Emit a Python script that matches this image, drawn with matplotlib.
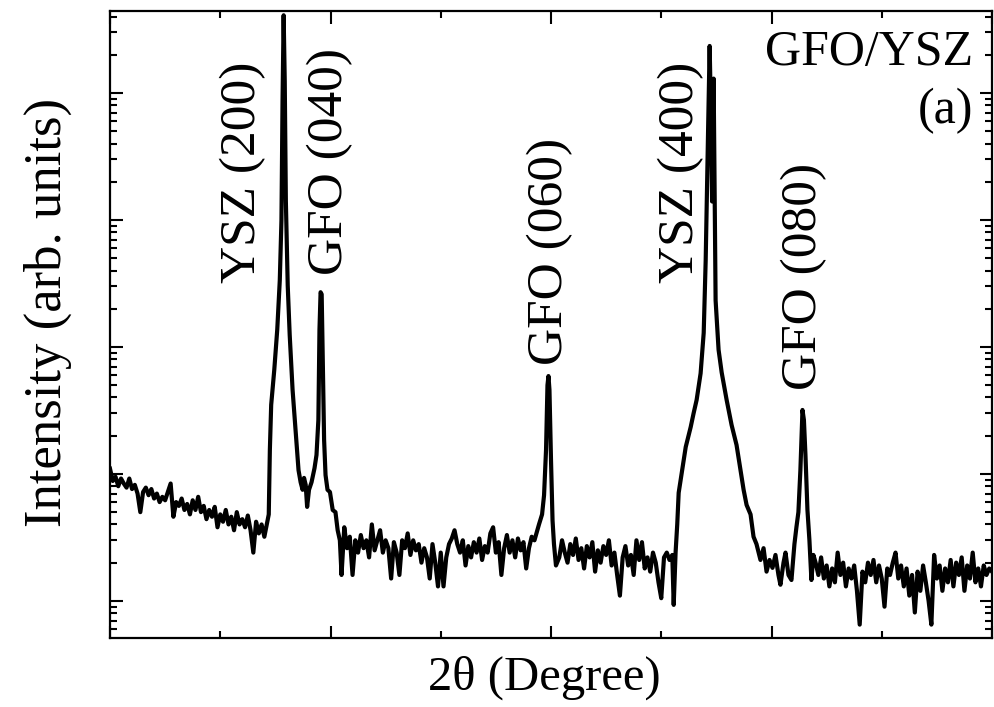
import matplotlib
matplotlib.use("Agg")
import matplotlib.pyplot as plt
from matplotlib.ticker import LogLocator, MultipleLocator, NullFormatter

# ---- data (2theta in degrees, intensity in counts) ----
two_theta_bg1 = [20.00, 20.25, 20.50, 20.75, 21.00, 21.25, 21.50, 21.75, 22.00, 22.25,
                 22.50, 22.75, 23.00, 23.25, 23.50, 23.75, 24.00, 24.25, 24.50, 24.75,
                 25.00, 25.25, 25.50, 25.75, 26.00, 26.25, 26.50, 26.75, 27.00, 27.25,
                 27.50, 27.75, 28.00, 28.25, 28.50, 28.75, 29.00, 29.25, 29.50, 29.75,
                 30.00, 30.25, 30.50, 30.75, 31.00, 31.25, 31.50, 31.75, 32.00, 32.25,
                 32.50, 32.75, 33.00, 33.25, 33.50, 33.75, 34.00, 34.25]
intensity_bg1 = [110, 88, 95, 80, 92, 84, 78, 92, 76, 82,
                 70, 50, 72, 78, 68, 76, 64, 70, 60, 66,
                 62, 72, 84, 46, 60, 56, 64, 52, 58, 48,
                 62, 52, 66, 50, 56, 44, 52, 46, 55, 38,
                 48, 42, 52, 40, 46, 36, 50, 40, 44, 38,
                 47, 36, 24, 42, 34, 40, 32, 41]

two_theta_pk1 = [34.40, 34.50, 34.62, 34.90, 35.17, 35.40, 35.55, 35.65, 35.75, 35.85,
                 35.95, 36.12, 36.30, 36.56, 36.83, 37.10, 37.29, 37.47, 37.60, 37.75,
                 37.88, 38.05, 38.28, 38.55, 38.73, 38.90, 39.00, 39.10, 39.20, 39.30,
                 39.42, 39.55, 39.73, 39.95, 40.20, 40.45, 40.65, 40.85]
intensity_pk1 = [48, 155, 350, 660, 1370, 3350, 9900, 87000, 410000, 124000,
                 14200, 3050, 1240, 460, 222, 107, 86, 75, 93, 82,
                 55, 75, 86, 111, 141, 266, 1370, 2700, 2600, 790,
                 185, 98, 75, 72, 52, 50, 36, 30]

two_theta_bg2 = [41.00, 41.25, 41.50, 41.75, 42.00, 42.25, 42.50, 42.75, 43.00, 43.25,
                 43.50, 43.75, 44.00, 44.25, 44.50, 44.75, 45.00, 45.25, 45.50, 45.75,
                 46.00, 46.25, 46.50, 46.75, 47.00, 47.25, 47.50, 47.75, 48.00, 48.25,
                 48.50, 48.75, 49.00, 49.25, 49.50, 49.75, 50.00, 50.25, 50.50, 50.75,
                 51.00, 51.25, 51.50, 51.75, 52.00, 52.25, 52.50, 52.75, 53.00, 53.25,
                 53.50, 53.75, 54.00, 54.25, 54.50, 54.75, 55.00, 55.25, 55.50, 55.75,
                 56.00, 56.25, 56.50, 56.75, 57.00, 57.25, 57.50, 57.75, 58.00, 58.25,
                 58.50]
intensity_bg2 = [16, 38, 26, 32, 16, 30, 24, 33, 26, 30,
                 22, 40, 25, 30, 36, 24, 30, 26, 15, 29,
                 24, 16, 30, 26, 34, 23, 30, 25, 28, 20,
                 26, 22, 15, 28, 20, 13, 24, 13, 22, 28,
                 31, 36, 28, 24, 30, 19, 27, 22, 29, 24,
                 31, 21, 27, 24, 34, 38, 24, 29, 16, 26,
                 33, 24, 30, 22, 31, 25, 29, 18, 26, 32,
                 30]

two_theta_pk2 = [58.91, 59.19, 59.37, 59.55, 59.68, 59.77, 59.86, 60.00, 60.14, 60.27, 60.45]
intensity_pk2 = [40, 48, 68, 155, 500, 590, 460, 129, 43, 28, 19]

two_theta_bg3 = [60.75, 61.00, 61.25, 61.50, 61.75, 62.00, 62.25, 62.50, 62.75, 63.00,
                 63.25, 63.50, 63.75, 64.00, 64.25, 64.50, 64.75, 65.00, 65.25, 65.50,
                 65.75, 66.00, 66.25, 66.50, 66.75, 67.00, 67.25, 67.50, 67.75, 68.00,
                 68.25, 68.50, 68.75, 69.00, 69.25, 69.50, 69.75, 70.00, 70.25, 70.50,
                 70.75, 71.00, 71.13, 71.30]
intensity_bg3 = [22, 30, 24, 20, 28, 23, 31, 21, 26, 18,
                 27, 22, 29, 17, 25, 20, 27, 23, 30, 19,
                 24, 16, 11, 22, 27, 19, 23, 16, 30, 21,
                 29, 18, 22, 17, 24, 20, 14, 10.5, 22, 24,
                 21, 23, 9.3, 24]

two_theta_pk3 = [71.45, 71.58, 71.86, 72.22, 72.67, 72.94, 73.21, 73.57, 73.85, 74.03,
                 74.21, 74.39, 74.52, 74.61, 74.75, 74.93, 75.20, 75.48, 75.93, 76.38,
                 76.83, 77.19, 77.47, 77.74, 78.10, 78.37, 78.64, 79.00, 79.28, 79.55,
                 79.82, 80.09, 80.36, 80.63, 80.81, 81.09, 81.27, 81.54, 81.81, 82.08,
                 82.26, 82.44, 82.62, 82.81, 82.94, 83.08, 83.26, 83.44, 83.62, 83.80]
intensity_pk3 = [40, 71, 102, 163, 234, 302, 383, 620, 1290, 4800,
                 35000, 235000, 60000, 14000, 130000, 2330, 950, 630, 383, 243,
                 169, 107, 75, 57, 48, 32, 28, 21, 26, 17,
                 21, 18.2, 23, 16, 13.4, 20, 24, 16, 14.6, 28,
                 38, 50, 107, 319, 266, 141, 52, 30, 14.6, 23]

two_theta_bg4 = [84.00, 84.25, 84.50, 84.75, 85.00, 85.25, 85.50, 85.75, 86.00, 86.25,
                 86.50, 86.75, 87.00, 87.25, 87.50, 87.75, 88.00, 88.25, 88.50, 88.75,
                 89.00, 89.25, 89.50, 89.75, 90.00, 90.25, 90.50, 90.75, 91.00, 91.25,
                 91.50, 91.75, 92.00, 92.25, 92.50, 92.75, 93.00, 93.25, 93.50, 93.75,
                 94.00, 94.25, 94.50, 94.75, 95.00, 95.25, 95.50, 95.75, 96.00, 96.25,
                 96.50, 96.75, 97.00, 97.25, 97.50, 97.75, 98.00, 98.25, 98.50, 98.75,
                 99.00, 99.25, 99.50, 99.75, 100.00]
intensity_bg4 = [20, 16, 22, 15, 19, 13, 18, 14, 24, 16,
                 20, 13, 18, 15, 19, 12, 6.5, 17, 14, 20,
                 16, 21, 14, 19, 15, 9.0, 18, 16, 20, 24,
                 15, 19, 13, 18, 11, 16, 8.1, 17, 12, 19,
                 14, 10, 6.5, 23, 15, 19, 12, 18, 14, 21,
                 13, 20, 16, 22, 12, 19, 15, 24, 14, 18,
                 13, 19, 16, 18, 17]

peak_labels = ["YSZ (200)", "GFO (040)", "GFO (060)", "YSZ (400)", "GFO (080)"]
sample_label = "GFO/YSZ"
panel_label = "(a)"

two_theta = (two_theta_bg1 + two_theta_pk1 + two_theta_bg2 + two_theta_pk2 +
             two_theta_bg3 + two_theta_pk3 + two_theta_bg4)
intensity = (intensity_bg1 + intensity_pk1 + intensity_bg2 + intensity_pk2 +
             intensity_bg3 + intensity_pk3 + intensity_bg4)

# ---- figure ----
plt.rcParams['font.family'] = ['Liberation Serif', 'DejaVu Serif']

W, H = 994, 707
fig = plt.figure(figsize=(W / 100, H / 100), dpi=100)
ax_l, ax_r, ax_t, ax_b = 110, 992, 11, 638
ax = fig.add_axes([ax_l / W, 1 - ax_b / H, (ax_r - ax_l) / W, (ax_b - ax_t) / H])

ax.plot(two_theta, intensity, color='black', lw=3.0, solid_joinstyle='round')
ax.set_yscale('log')
ax.set_xlim(20, 100)
ax.set_ylim(5.1, 4.43e5)

ax.xaxis.set_major_locator(MultipleLocator(20))
ax.xaxis.set_minor_locator(MultipleLocator(10))
ax.yaxis.set_major_locator(LogLocator(base=10, numticks=20))
ax.yaxis.set_minor_locator(LogLocator(base=10, subs=range(2, 10), numticks=20))
ax.xaxis.set_major_formatter(NullFormatter())
ax.xaxis.set_minor_formatter(NullFormatter())
ax.yaxis.set_major_formatter(NullFormatter())
ax.yaxis.set_minor_formatter(NullFormatter())
ax.tick_params(which='both', direction='in', top=True, right=True, width=1.5, color='black')
ax.tick_params(which='major', length=9)
ax.tick_params(which='minor', length=5)
for s in ax.spines.values():
    s.set_linewidth(1.6)

# axis labels
ax.text(0.492, -0.083, "2θ (Degree)", transform=ax.transAxes, ha='center',
        va='baseline', fontsize=35)
ax.text(-0.070, 0.52, "Intensity (arb. units)", transform=ax.transAxes, ha='center',
        va='center', rotation=90, fontsize=38)

# peak labels (axes-fraction positions)
label_pos = [(0.1505, 0.566), (0.2489, 0.579), (0.4989, 0.4354), (0.6470, 0.566), (0.787, 0.3955)]
for txt, (px, py) in zip(peak_labels, label_pos):
    ax.text(px, py, txt, transform=ax.transAxes, rotation=90, ha='center', va='bottom',
            fontsize=37)

ax.text(0.9785, 0.9139, sample_label, transform=ax.transAxes, ha='right', va='baseline',
        fontsize=36)
ax.text(0.9785, 0.8214, panel_label, transform=ax.transAxes, ha='right', va='baseline',
        fontsize=36)

fig.savefig("out.png", dpi=100)
